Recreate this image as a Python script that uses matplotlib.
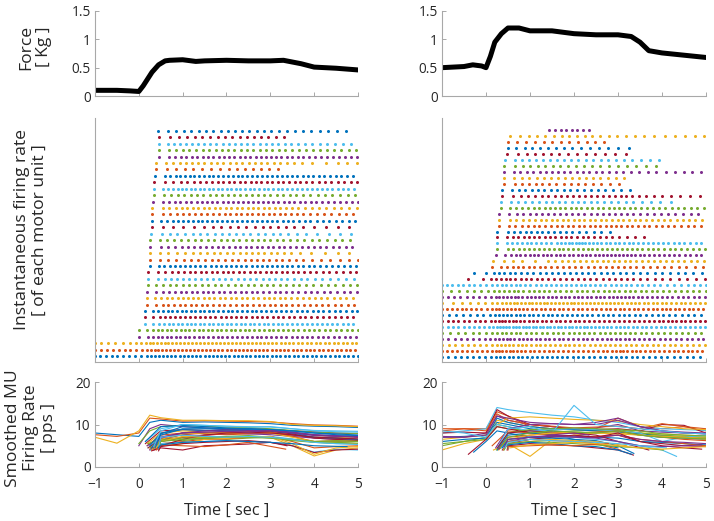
import numpy as np
import matplotlib
matplotlib.use("Agg")
import matplotlib.pyplot as plt

plt.rcParams["font.family"] = ["Open Sans", "DejaVu Sans"]

n = np.nan
colors = ["#0072BD", "#D95319", "#EDB120", "#7E2F8E", "#77AC30", "#4DBEEE", "#A2142F"]

# force traces
force_t_left = [-1, -0.5, -0.2, 0, 0.1, 0.2, 0.3, 0.45, 0.6, 0.7, 1.0, 1.3, 1.5, 2.0, 2.5, 3.0, 3.3, 3.5, 3.7, 4.0, 4.5, 5.0]
force_left = [0.10, 0.10, 0.09, 0.08, 0.18, 0.30, 0.42, 0.55, 0.62, 0.63, 0.64, 0.61, 0.62, 0.63, 0.62, 0.62, 0.63, 0.60, 0.57, 0.51, 0.49, 0.46]
force_t_right = [-1, -0.5, -0.3, -0.1, 0, 0.1, 0.2, 0.35, 0.5, 0.75, 1.0, 1.5, 2.0, 2.5, 3.0, 3.3, 3.5, 3.7, 4.0, 4.5, 5.0]
force_right = [0.50, 0.52, 0.55, 0.53, 0.50, 0.70, 0.95, 1.10, 1.20, 1.20, 1.15, 1.15, 1.10, 1.08, 1.08, 1.05, 0.95, 0.80, 0.76, 0.72, 0.68]

# smoothed firing rate per motor unit (pps) at these times, NaN = unit silent
knots = [-1, -0.5, 0, 0.25, 0.5, 1, 1.5, 2, 2.5, 3, 3.5, 4, 4.5, 5]

left_onset = [-1, -1, -1, 0.0, 0.0, 0.15, 0.15, 0.15, 0.19, 0.19, 0.19, 0.21, 0.21, 0.21, 0.25, 0.25, 0.25, 0.25,
              0.26, 0.27, 0.29, 0.29, 0.29, 0.31, 0.32, 0.34, 0.34, 0.34, 0.38, 0.40, 0.40, 0.45, 0.45, 0.45, 0.45, 0.44]
left_stop = [5, 5, 5, 5, 5, 5, 5, 5, 5, 4.9, 5, 5, 5, 5, 5, 5, 5, 5,
             5, 5, 5, 5, 5, 5, 5, 5, 5, 5, 5, 3.35, 5, 5, 5, 5, 3.38, 4.75]
left_rates = [
    [8.0, 7.6, 7.2, 10.5, 11.0, 10.5, 10.6, 10.5, 10.4, 10.2, 9.8, 9.6, 9.5, 9.3],
    [7.6, 7.2, 8.0, 11.5, 11.3, 10.8, 10.9, 10.8, 10.7, 10.6, 10.2, 9.9, 9.8, 9.6],
    [7.0, 5.6, 8.5, 12.2, 11.6, 11.0, 11.0, 10.9, 10.9, 10.7, 10.0, 9.8, 9.7, 9.5],
    [n, n, 5.0, 9.0, 10.0, 9.5, 9.2, 9.0, 9.0, 8.8, 8.5, 8.3, 8.0, 7.8],
    [n, n, 5.5, 8.5, 9.5, 9.8, 9.6, 9.4, 9.3, 9.0, 8.6, 8.2, 8.0, 7.9],
    [n, n, n, 6.0, 9.0, 10.0, 9.8, 9.6, 9.5, 9.4, 9.0, 8.6, 8.5, 8.4],
    [n, n, n, 5.5, 8.5, 8.8, 8.6, 8.5, 8.4, 8.3, 8.0, 7.5, 7.2, 7.0],
    [n, n, n, 6.0, 9.5, 9.8, 9.5, 9.2, 9.0, 8.8, 8.5, 8.0, 7.8, 7.5],
    [n, n, n, 5.0, 7.5, 8.0, 7.8, 7.6, 7.8, 8.0, 7.6, 7.0, 6.8, 6.5],
    [n, n, n, 5.5, 8.0, 8.5, 8.2, 8.0, 8.0, 8.2, 7.5, 7.0, 7.0, 6.8],
    [n, n, n, 5.0, 7.0, 8.0, 8.2, 8.0, 7.8, 7.6, 7.2, 6.8, 6.5, 6.4],
    [n, n, n, 5.5, 6.5, 7.0, 6.8, 6.5, 6.8, 7.0, 6.5, 6.0, 6.0, 6.2],
    [n, n, n, 4.5, 7.0, 7.5, 7.2, 7.0, 7.0, 7.2, 6.6, 5.8, 5.5, 5.4],
    [n, n, n, 4.5, 6.5, 7.6, 8.0, 8.2, 8.0, 8.4, 7.8, 6.8, 6.5, 6.3],
    [n, n, n, 5.0, 8.0, 8.8, 8.6, 8.5, 8.6, 8.7, 8.2, 7.6, 7.3, 7.2],
    [n, n, n, 4.2, 5.5, 6.0, 6.5, 6.6, 7.0, 7.2, 6.0, 4.5, 4.8, 5.0],
    [n, n, n, 4.5, 5.0, 5.5, 6.5, 6.8, 7.2, 7.0, 5.0, 2.6, 4.0, 4.5],
    [n, n, n, 4.0, 6.0, 7.0, 7.5, 7.8, 8.0, 8.0, 7.5, 7.0, 6.8, 6.5],
    [n, n, n, 4.5, 6.5, 6.2, 6.8, 7.0, 7.2, 6.8, 6.2, 5.8, 5.6, 5.5],
    [n, n, n, 4.0, 5.5, 5.8, 6.0, 6.2, 6.0, 5.8, 5.0, 3.5, 4.2, 4.0],
    [n, n, n, 3.8, 4.5, 4.0, 5.0, 5.2, 5.4, 5.8, 5.0, 3.4, 4.0, 4.2],
    [n, n, n, 4.5, 7.5, 9.0, 9.0, 8.8, 8.8, 8.5, 8.0, 7.0, 6.8, 6.5],
    [n, n, n, 4.0, 6.0, 7.0, 7.5, 7.8, 8.0, 8.2, 7.2, 6.0, 6.2, 6.0],
    [n, n, n, 4.2, 6.5, 7.8, 8.0, 8.0, 8.2, 8.0, 7.0, 6.0, 5.8, 5.5],
    [n, n, n, 4.5, 7.0, 8.0, 8.5, 8.8, 8.6, 8.5, 8.2, 7.6, 7.4, 7.2],
    [n, n, n, 4.3, 6.2, 6.8, 7.0, 7.2, 7.4, 7.0, 6.4, 6.0, 5.8, 5.6],
    [n, n, n, 4.8, 8.5, 10.0, 9.8, 9.6, 9.4, 9.5, 9.0, 8.5, 8.3, 8.2],
    [n, n, n, 4.0, 5.0, 6.5, 7.5, 8.0, 8.2, 8.0, 7.6, 7.0, 6.8, 6.6],
    [n, n, n, 4.6, 7.8, 9.5, 9.2, 9.0, 9.0, 8.8, 8.5, 8.0, 7.6, 7.4],
    [n, n, n, 4.0, 5.2, 5.0, 4.8, 5.2, 5.8, 4.2, n, n, n, n],
    [n, n, n, 4.5, 6.0, 7.2, 7.0, 6.8, 7.0, 7.2, 5.5, 3.0, 4.5, 4.8],
    [n, n, n, 4.2, 6.8, 8.0, 8.2, 8.4, 8.2, 8.6, 8.0, 7.4, 7.2, 7.0],
    [n, n, n, 4.3, 6.0, 6.5, 6.8, 7.0, 7.0, 6.8, 6.5, 6.0, 6.2, 6.0],
    [n, n, n, 4.5, 7.0, 7.5, 7.2, 7.0, 7.2, 7.0, 6.5, 5.8, 5.5, 5.3],
    [n, n, n, 3.8, 4.8, 5.5, 5.8, 6.0, 6.2, 5.8, 5.0, n, n, n],
    [n, n, n, 4.5, 5.2, 5.8, 6.0, 6.2, 6.0, 5.8, 5.5, 5.0, 4.8, n],
]

right_onset = [-1, -1, -1, -1, -1, -1, -1, -1, -1, -1, -1, -1, -1, -0.4, -0.28, 0.14, 0.17, 0.22, 0.24, 0.26,
               0.26, 0.26, 0.29, 0.29, 0.29, 0.33, 0.35, 0.37, 0.37, 0.40, 0.40, 0.41, 0.41, 0.43, 0.48, 0.50,
               0.50, 0.54, 1.43]
right_stop = [5, 5, 5, 5, 5, 5, 5, 5, 5, 5, 5, 5, 5, 5, 5, 5, 5, 5, 5, 5,
              3.7, 3.0, 5, 5, 5, 5, 4.33, 4.9, 3.36, 3.05, 3.2, 4.9, 4.03, 4.1, 3.35, 3.31,
              2.78, 5, 2.34]
right_rates = [
    [7.0, 7.2, 7.5, 10.5, 10.0, 9.0, 8.5, 8.2, 8.0, 8.5, 7.5, 7.0, 6.8, 6.5],
    [8.5, 9.0, 9.0, 13.0, 12.0, 9.5, 9.0, 8.8, 9.0, 11.5, 9.5, 9.0, 9.5, 8.5],
    [6.5, 7.0, 7.5, 11.0, 10.5, 9.5, 9.0, 8.8, 8.6, 8.5, 8.0, 7.8, 7.5, 7.3],
    [7.0, 7.0, 8.0, 12.0, 11.0, 10.0, 9.5, 9.0, 9.2, 10.0, 8.5, 8.2, 8.0, 7.8],
    [5.5, 6.0, 7.0, 10.0, 9.5, 8.0, 8.2, 8.5, 8.6, 8.8, 8.0, 7.2, 7.0, 6.8],
    [8.0, 8.5, 9.0, 14.0, 13.5, 12.8, 12.2, 11.8, 11.0, 10.5, 9.5, 9.0, 8.8, 8.6],
    [8.0, 8.2, 8.0, 13.5, 12.0, 10.0, 9.5, 9.0, 8.8, 9.0, 8.5, 10.0, 9.8, 8.0],
    [6.0, 6.5, 6.8, 11.5, 10.5, 9.5, 9.0, 8.8, 8.5, 8.2, 7.8, 7.4, 7.0, 6.8],
    [9.0, 9.0, 8.5, 12.5, 11.0, 10.0, 9.6, 9.2, 9.4, 9.6, 9.0, 10.2, 9.5, 9.0],
    [4.0, 5.5, 6.5, 10.0, 11.5, 11.8, 11.5, 11.2, 11.0, 10.8, 10.0, 9.5, 9.0, 8.8],
    [7.2, 7.0, 7.5, 12.0, 11.5, 10.5, 10.2, 10.0, 10.0, 11.0, 9.5, 8.5, 8.0, 7.8],
    [5.0, 6.0, 6.5, 9.5, 9.0, 8.5, 8.2, 8.0, 8.2, 8.5, 8.0, 7.5, 7.2, 7.0],
    [8.5, 8.0, 7.0, 10.0, 9.5, 8.5, 8.8, 9.0, 8.8, 8.5, 8.0, 6.0, 7.0, 7.5],
    [n, 3.0, 6.5, 9.5, 9.0, 8.0, 7.5, 7.2, 7.0, 7.5, 6.0, 5.5, 5.0, 4.8],
    [n, 3.5, 6.0, 8.5, 8.0, 7.0, 7.2, 7.4, 7.0, 6.8, 6.0, 5.8, 5.5, 5.2],
    [n, n, n, 5.0, 8.5, 8.0, 7.5, 7.0, 7.2, 7.5, 6.5, 6.0, 5.5, 5.0],
    [n, n, n, 4.0, 5.5, 2.5, 6.5, 7.5, 8.0, 8.0, 7.5, 7.2, 7.0, 6.5],
    [n, n, n, 4.5, 9.0, 10.0, 10.2, 10.0, 10.5, 11.5, 9.5, 8.5, 8.2, 8.0],
    [n, n, n, 4.0, 8.0, 8.8, 9.0, 9.2, 9.0, 8.8, 8.5, 7.8, 7.5, 7.3],
    [n, n, n, 4.5, 9.0, 9.5, 8.0, 14.5, 10.0, 9.5, 9.0, 8.5, 8.0, 7.8],
    [n, n, n, 4.5, 8.0, 8.5, 8.2, 8.0, 7.5, 6.0, 4.0, n, n, n],
    [n, n, n, 4.0, 7.5, 8.0, 7.5, 6.5, 5.5, 4.5, n, n, n, n],
    [n, n, n, 4.2, 7.0, 7.5, 7.8, 8.0, 8.2, 8.5, 7.5, 7.0, 6.5, 6.2],
    [n, n, n, 4.0, 6.5, 7.5, 8.0, 8.2, 8.0, 7.8, 7.5, 7.2, 7.0, 6.8],
    [n, n, n, 4.2, 6.0, 7.0, 7.5, 7.2, 7.0, 7.5, 6.5, 6.0, 5.8, 5.5],
    [n, n, n, 4.5, 7.0, 8.0, 8.5, 8.2, 8.0, 8.5, 7.5, 7.0, 6.8, 6.6],
    [n, n, n, 4.5, 6.0, 6.5, 6.8, 7.0, 6.5, 6.0, 5.0, 4.0, 2.5, n],
    [n, n, n, 4.0, 5.5, 6.5, 7.0, 7.5, 7.0, 8.0, 6.0, 5.0, 4.5, 4.2],
    [n, n, n, 4.5, 6.5, 7.0, 6.8, 6.5, 6.2, 5.0, 3.2, n, n, n],
    [n, n, n, 4.0, 6.0, 6.5, 6.2, 6.0, 5.5, 4.0, n, n, n, n],
    [n, n, n, 4.2, 5.5, 6.0, 6.5, 6.2, 6.0, 5.0, n, n, n, n],
    [n, n, n, 4.5, 6.5, 7.0, 7.2, 7.0, 6.8, 6.0, 5.0, 4.8, 5.0, 5.2],
    [n, n, n, 4.0, 5.5, 6.0, 5.8, 5.5, 5.2, 4.8, 4.5, 4.0, n, n],
    [n, n, n, 4.5, 5.8, 6.5, 6.2, 6.0, 5.8, 5.5, 5.0, 4.5, n, n],
    [n, n, n, 4.0, 5.0, 5.5, 5.2, 5.0, 4.5, 4.0, 2.8, n, n, n],
    [n, n, n, 4.2, 5.2, 5.8, 5.5, 5.0, 4.8, 4.0, 3.0, n, n, n],
    [n, n, n, 4.0, 4.8, 5.0, 5.2, 5.0, 5.5, n, n, n, n, n],
    [n, n, n, n, 4.5, 5.2, 5.5, 5.8, 5.5, 5.0, 4.5, 4.2, 4.5, 4.8],
    [n, n, n, n, n, n, 7.5, 8.0, 7.5, n, n, n, n, n],
]


def unit_curve(vals, onset, stop):
    t = np.array(knots, float)
    v = np.array(vals, float)
    ok = ~np.isnan(v)
    t, v = t[ok], v[ok]
    t[0] = onset
    t[-1] = stop
    return t, v


def spike_times(t, v):
    out = []
    s = t[0]
    while s <= t[-1]:
        out.append(s)
        s += 1.0 / np.interp(s, t, v)
    return np.array(out)


W, H = 714, 521
fig = plt.figure(figsize=(W / 100, H / 100), dpi=100)
renderer = fig.canvas.get_renderer()


def fit_size(txt, target_px, base=12.0):
    # font size that gives the text the width it has in the reference
    t = fig.text(0, 0, txt, fontsize=base)
    w = t.get_window_extent(renderer).width
    t.remove()
    return base * target_px / w


tick_fs = fit_size("1.5", 19)
xlab_fs = fit_size("Time [ sec ]", 85)
ylab_fs = fit_size("Instantaneous firing rate", 200)

spine_c = "#a8a8a8"
text_c = "#262626"


def px_axes(x0, x1, top, bottom):
    return fig.add_axes([x0 / W, 1 - bottom / H, (x1 - x0) / W, (bottom - top) / H])


def style(ax, labels_x=False):
    for s in ["top", "right"]:
        ax.spines[s].set_visible(False)
    for s in ["left", "bottom"]:
        ax.spines[s].set_color(spine_c)
        ax.spines[s].set_linewidth(0.8)
    ax.tick_params(direction="in", length=3, width=0.7, color=spine_c,
                   labelcolor=text_c, labelsize=tick_fs, pad=3)
    ax.tick_params(axis="x", pad=7)
    ax.set_xlim(-1, 5)
    ax.set_xticks(range(-1, 6))
    if not labels_x:
        ax.set_xticklabels([])


columns = [
    (95, 358, force_t_left, force_left, left_rates, left_onset, left_stop, 37.0, -0.93),
    (442, 706, force_t_right, force_right, right_rates, right_onset, right_stop, 40.0, -0.84),
]

for ci, (x0, x1, ft, fv, rates, onset, stop, ytop, ybot) in enumerate(columns):
    # force
    ax = px_axes(x0, x1, 11, 96)
    ax.plot(ft, fv, color="black", lw=3.6, solid_capstyle="round")
    style(ax)
    ax.set_ylim(0, 1.5)
    ax.set_yticks([0, 0.5, 1, 1.5])
    ax.set_yticklabels(["0", "0.5", "1", "1.5"])

    # raster + smoothed rates
    axr = px_axes(x0, x1, 118, 362)
    axs = px_axes(x0, x1, 382, 467)
    for i, vals in enumerate(rates):
        t, v = unit_curve(vals, onset[i], stop[i])
        c = colors[i % len(colors)]
        sp = spike_times(t, v)
        axr.plot(sp, np.full(len(sp), i), "o", color=c, ms=2.2, mew=0)
        axs.plot(t, v, color=c, lw=0.8)
    style(axr)
    axr.set_ylim(ybot, ytop)
    axr.set_yticks([])

    style(axs, labels_x=True)
    axs.set_ylim(0, 20)
    axs.set_yticks([0, 10, 20])
    axs.set_xlabel("Time [ sec ]", fontsize=xlab_fs, color=text_c, labelpad=8)

fig.text(35 / W, 1 - 47 / H, "Force\n[ Kg ]", rotation=90, ha="center", va="center",
         fontsize=ylab_fs, color=text_c, linespacing=1.15)
fig.text(31 / W, 1 - 230 / H, "Instantaneous firing rate\n[ of each motor unit ]", rotation=90,
         ha="center", va="center", fontsize=ylab_fs, color=text_c, linespacing=1.15)
fig.text(31 / W, 1 - 428 / H, "Smoothed MU\nFiring Rate\n[ pps ]", rotation=90,
         ha="center", va="center", fontsize=ylab_fs, color=text_c, linespacing=1.15)

fig.savefig("out.png", dpi=100)
